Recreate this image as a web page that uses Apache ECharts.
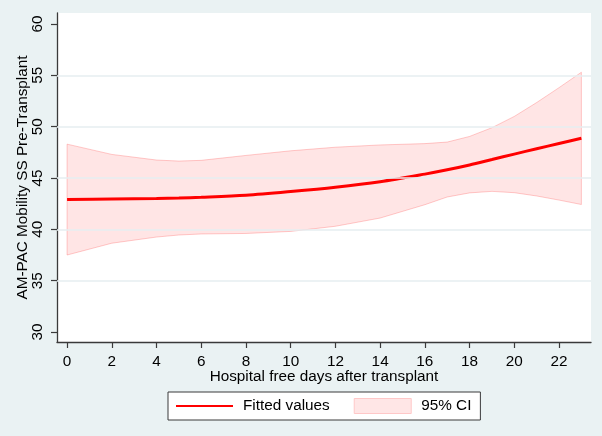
<!DOCTYPE html>
<html>
<head>
<meta charset="utf-8">
<script src="https://cdn.jsdelivr.net/npm/echarts@6/dist/echarts.min.js"></script>
<style>
html,body{margin:0;padding:0;background:#EAF2F3;}
#c{width:602px;height:436px;}
</style>
</head>
<body>
<div id="c"></div>
<script>
var xDays   = [0, 2, 4, 5, 6, 8, 10, 12, 14, 16, 17, 18, 19, 20, 21, 22, 23];
var fitted  = [42.9, 42.95, 43.0, 43.05, 43.12, 43.32, 43.68, 44.1, 44.64, 45.38, 45.8, 46.27, 46.8, 47.33, 47.85, 48.36, 48.87];
var ciUpper = [48.3, 47.3, 46.75, 46.65, 46.72, 47.2, 47.65, 48.0, 48.22, 48.35, 48.5, 49.05, 49.9, 51.0, 52.35, 53.8, 55.3];
var ciLower = [37.5, 38.65, 39.25, 39.45, 39.55, 39.6, 39.8, 40.3, 41.1, 42.4, 43.15, 43.55, 43.7, 43.57, 43.25, 42.85, 42.42];
var xTicks  = [0, 2, 4, 6, 8, 10, 12, 14, 16, 18, 20, 22];
var yTicks  = [30, 35, 40, 45, 50, 55, 60];
var yGrid   = [35, 40, 45, 50, 55];

var lineData = xDays.map(function(x, i){ return [x, fitted[i]]; });
var bandData = xDays.map(function(x, i){ return [x, ciLower[i], ciUpper[i]]; });

var chart = echarts.init(document.getElementById('c'), null, {renderer:'canvas'});
var font = 'Liberation Sans, Arial, sans-serif';
var fs = 15.3;
chart.setOption({
  backgroundColor: '#EAF2F3',
  animation: false,
  grid: {left: 57, right: 11, top: 13, bottom: 94, show: true, backgroundColor: '#ffffff', borderWidth: 0},
  xAxis: {
    type: 'value', min: -0.45, max: 23.43,
    name: 'Hospital free days after transplant', nameLocation: 'middle', nameGap: 27,
    nameMoveOverlap: false,
    nameTextStyle: {fontFamily: font, fontSize: fs, color: '#000'},
    axisLine: {show: true, onZero: false, lineStyle: {color: '#3a3a3a', width: 1.3}},
    axisTick: {show: true, length: 6, customValues: xTicks, lineStyle: {color: '#3a3a3a', width: 1.2}},
    axisLabel: {customValues: xTicks, fontFamily: font, fontSize: fs, color: '#000', margin: 12},
    splitLine: {show: false}
  },
  yAxis: {
    type: 'value', min: 29.03, max: 61.07,
    name: 'AM-PAC Mobility SS Pre-Transplant', nameLocation: 'middle', nameGap: 27,
    nameMoveOverlap: false,
    nameTextStyle: {fontFamily: font, fontSize: fs, color: '#000'},
    axisLine: {show: true, onZero: false, lineStyle: {color: '#3a3a3a', width: 1.3}},
    axisTick: {show: true, length: 6, customValues: yTicks, lineStyle: {color: '#3a3a3a', width: 1.2}},
    axisLabel: {customValues: yTicks, rotate: 90, fontFamily: font, fontSize: fs, color: '#000', margin: 12},
    splitLine: {show: false}
  },
  legend: {
    left: 168, top: 392,
    orient: 'horizontal',
    backgroundColor: '#ffffff', borderColor: '#3a3a3a', borderWidth: 1,
    padding: [6, 9, 6, 7],
    itemWidth: 57, itemHeight: 15, itemGap: 24,
    textStyle: {fontFamily: font, fontSize: fs, color: '#000', padding: [0, 0, 0, 5]},
    data: [
      {name: 'Fitted values', itemStyle: {opacity: 0}},
      {name: '95% CI', icon: 'rect', itemStyle: {color: '#FFE6E6', borderColor: '#FFC8C8', borderWidth: 1}}
    ]
  },
  series: [
    {
      name: '95% CI',
      type: 'custom',
      data: bandData,
      encode: {x: 0, y: [1, 2]},
      itemStyle: {color: '#FFE6E6'},
      z: 1,
      renderItem: function(params, api){
        if (params.dataIndex !== 0) return null;
        var top = [], bot = [];
        for (var i = 0; i < bandData.length; i++) {
          top.push(api.coord([bandData[i][0], bandData[i][2]]));
          bot.push(api.coord([bandData[i][0], bandData[i][1]]));
        }
        var pts = top.concat(bot.reverse());
        return {
          type: 'polygon',
          shape: {points: pts},
          style: {fill: 'rgba(255,0,0,0.1)', stroke: 'rgba(255,0,0,0.2)', lineWidth: 1}
        };
      },
      markLine: {
        silent: true, symbol: 'none', label: {show: false},
        lineStyle: {color: '#E6EEF0', width: 1.5, type: 'solid'},
        data: yGrid.map(function(v){ return {yAxis: v}; })
      }
    },
    {
      name: 'Fitted values',
      type: 'line',
      data: lineData,
      smooth: 0.3,
      symbol: 'none',
      z: 3,
      lineStyle: {color: '#FF0000', width: 3},
      itemStyle: {color: '#FF0000'}
    }
  ]
});
</script>
</body>
</html>
